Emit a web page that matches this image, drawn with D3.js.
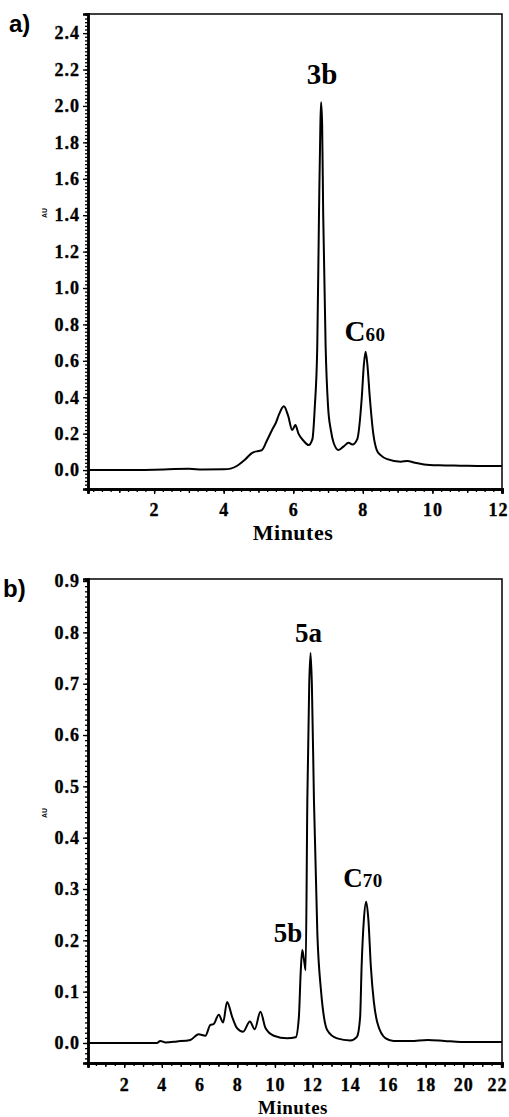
<!DOCTYPE html>
<html lang="en">
<head>
<meta charset="UTF-8">
<title>HPLC traces</title>
<script src="https://cdn.jsdelivr.net/npm/d3@7/dist/d3.min.js"></script>
<style>
    body { margin: 0; background: #fff; }
    .peak { font-family: "Liberation Serif", serif; font-weight: bold; fill: #000; }
    .panel-tag { font: bold 24px "Liberation Sans", Arial, sans-serif; fill: #000; }
    .au { font: bold 7px "Liberation Sans", Arial, sans-serif; fill: #000; }
</style>
</head>
<body>
<div id="chart"></div>
<script>
    // ---- data ----
    // panel a) : retention time (min) and absorbance (AU)
    const timeA = [0.1, 1, 2, 3, 3.4, 4.0, 4.2, 4.4, 4.6, 4.82, 5.0, 5.1, 5.25, 5.39, 5.5, 5.6,
        5.73, 5.85, 5.97, 6.06, 6.15, 6.3, 6.44, 6.55, 6.62, 6.69, 6.74, 6.78, 6.8, 6.83,
        6.86, 6.93, 7.0, 7.08, 7.16, 7.3, 7.45, 7.59, 7.7, 7.84, 7.97, 8.03, 8.08, 8.13,
        8.2, 8.3, 8.4, 8.51, 8.7, 9.09, 9.28, 9.5, 9.76, 10.2, 10.8, 11.5, 12];
    const auA = [0, 0, 0.002, 0.007, 0.003, 0.004, 0.008, 0.025, 0.055, 0.095, 0.105, 0.11, 0.165, 0.22, 0.26, 0.31,
        0.35, 0.3, 0.22, 0.247, 0.2, 0.16, 0.137, 0.17, 0.35, 0.68, 1.41, 1.9, 2.02, 1.9,
        1.41, 0.68, 0.35, 0.22, 0.15, 0.11, 0.13, 0.15, 0.14, 0.17, 0.4, 0.58, 0.65, 0.58,
        0.4, 0.2, 0.11, 0.082, 0.06, 0.046, 0.05, 0.04, 0.031, 0.026, 0.024, 0.022, 0.022];

    // panel b)
    const timeB = [0.08, 2, 3.74, 3.91, 4.2, 4.8, 5.51, 5.95, 6.31, 6.57, 6.75, 7.02, 7.25, 7.46, 7.73,
        7.99, 8.31, 8.67, 8.93, 9.23, 9.5, 9.94, 10.65, 11.1, 11.27, 11.37, 11.45, 11.55, 11.63,
        11.72, 11.82, 11.89, 11.96, 12.07, 12.25, 12.45, 12.6, 12.78, 13.3, 14.0, 14.35, 14.52,
        14.6, 14.72, 14.84, 14.96, 15.09, 15.25, 15.44, 15.88, 16.3, 17.2, 18.1, 19.0, 19.87, 22.05];
    const auB = [0, 0, 0, 0.004, 0.001, 0.003, 0.006, 0.017, 0.014, 0.035, 0.037, 0.055, 0.04, 0.08, 0.051,
        0.029, 0.022, 0.042, 0.027, 0.061, 0.029, 0.014, 0.009, 0.011, 0.05, 0.14, 0.181, 0.16, 0.142,
        0.474, 0.7, 0.76, 0.7, 0.474, 0.214, 0.1, 0.051, 0.025, 0.009, 0.005, 0.012, 0.05,
        0.149, 0.24, 0.275, 0.24, 0.149, 0.08, 0.039, 0.009, 0.004, 0.004, 0.006, 0.004, 0.002, 0.002];

    // tick labels
    const xTicksA = [2, 4, 6, 8, 10, 12];
    const yTicksA = [0.0, 0.2, 0.4, 0.6, 0.8, 1.0, 1.2, 1.4, 1.6, 1.8, 2.0, 2.2, 2.4];
    const xTicksB = [2, 4, 6, 8, 10, 12, 14, 16, 18, 20, 22];
    const yTicksB = [0.0, 0.1, 0.2, 0.3, 0.4, 0.5, 0.6, 0.7, 0.8, 0.9];

    // peak labels: [main text, subscript, time, AU]
    const peaksA = [["3b", "", 6.8, 2.02], ["C", "60", 8.08, 0.65]];
    const peaksB = [["5a", "", 11.89, 0.76], ["5b", "", 11.45, 0.181], ["C", "70", 14.84, 0.275]];

    const width = 509;
    const height = 1117;

    const svg = d3.select('#chart')
        .append('svg')
        .attr('width', width)
        .attr('height', height);

    function drawPanel(p) {
        const x = d3.scaleLinear().domain(p.xDomain).range([p.left, p.right]);
        const y = d3.scaleLinear().domain(p.yDomain).range([p.bottom, p.top]);
        const g = svg.append('g');

        // top and right frame lines
        g.append('path')
            .attr('d', `M${p.left},${p.top}H${p.right}V${p.bottom}`)
            .attr('fill', 'none')
            .attr('stroke', '#000')
            .attr('stroke-width', 1.5);

        // minor ticks first, then the labelled ones
        const yMinor = d3.axisLeft(y).tickValues(p.yMinor).tickSize(3).tickFormat('');
        const yMajor = d3.axisLeft(y).tickValues(p.yTicks).tickSize(5)
            .tickFormat(d3.format(p.yFormat)).tickPadding(3);
        const xMinor = d3.axisBottom(x).tickValues(p.xMinor).tickSize(3).tickFormat('');
        const xMid = d3.axisBottom(x).tickValues(p.xMid).tickSize(4).tickFormat('');
        const xMajor = d3.axisBottom(x).tickValues(p.xTicks).tickSize(5)
            .tickFormat(d3.format('d')).tickPadding(p.xPad);

        for (const ax of [yMinor, yMajor]) {
            g.append('g').attr('transform', `translate(${p.left},0)`).call(ax);
        }
        let xAxisG;
        for (const ax of [xMinor, xMid, xMajor]) {
            xAxisG = g.append('g').attr('transform', `translate(0,${p.bottom})`).call(ax);
        }
        g.selectAll('.domain').attr('stroke', '#000').attr('stroke-width', 2.5);
        g.selectAll('.tick line').attr('stroke', '#000').attr('stroke-width', 1.3);
        // scanned Times labels are wide and heavy
        g.selectAll('.tick text')
            .style('font-family', '"Liberation Serif", "Times New Roman", serif')
            .style('font-size', '18px')
            .style('font-weight', 'bold')
            .style('letter-spacing', '1px')
            .style('fill', '#000')
            .style('stroke', '#000')
            .style('stroke-width', '0.35px');
        // the last x label sits at the page edge: nudge it inside
        xAxisG.selectAll('.tick text')
            .filter(d => d === p.xTicks[p.xTicks.length - 1])
            .attr('dx', -4);

        // trace
        const line = d3.line()
            .x((d, i) => x(p.time[i]))
            .y(d => y(d))
            .curve(d3.curveMonotoneX);
        g.append('path')
            .datum(p.au)
            .attr('d', line)
            .attr('fill', 'none')
            .attr('stroke', '#000')
            .attr('stroke-width', 2)
            .attr('stroke-linejoin', 'round');

        // axis titles
        g.append('text')
            .attr('class', 'peak')
            .attr('x', (p.left + p.right) / 2 - 2)
            .attr('y', p.minutesY)
            .attr('text-anchor', 'middle')
            .style('font-size', p.minutesSize + 'px')
            .style('letter-spacing', '0.5px')
            .text('Minutes');
        g.append('text')
            .attr('class', 'au')
            .attr('transform', `translate(47,${p.auY}) rotate(-90)`)
            .attr('text-anchor', 'middle')
            .text('AU');
        g.append('text')
            .attr('class', 'panel-tag')
            .attr('x', p.tagX)
            .attr('y', p.tagY)
            .text(p.tag);

        // peak names
        for (const [name, sub, t, v] of p.peaks) {
            const off = p.peakOffsets[name + sub];
            const txt = g.append('text')
                .attr('class', 'peak')
                .attr('x', x(t) + off[0])
                .attr('y', y(v) + off[1])
                .attr('text-anchor', off[2])
                .style('font-size', p.peakSize + 'px')
                .text(name);
            if (sub) {
                txt.append('tspan')
                    .style('font-size', '19px')
                    .style('letter-spacing', '0.5px')
                    .text(sub);
            }
        }
    }

    drawPanel({
        tag: 'a)', tagX: 9, tagY: 32,
        left: 88, right: 502, top: 14, bottom: 489,
        xDomain: [0.1, 12], yDomain: [-0.104, 2.505],
        time: timeA, au: auA,
        xTicks: xTicksA, yTicks: yTicksA, xPad: 9,
        xMinor: d3.range(0.25, 12.01, 0.25), xMid: d3.range(1, 12.01, 1),
        yMinor: d3.range(-0.1, 2.5, 0.02),
        yFormat: '.1f',
        minutesY: 540, minutesSize: 22, auY: 213,
        peaks: peaksA, peakSize: 29,
        peakOffsets: { '3b': [1, -18, 'middle'], 'C60': [-21, -11, 'start'] }
    });

    drawPanel({
        tag: 'b)', tagX: 3, tagY: 597,
        left: 88, right: 502, top: 579, bottom: 1063,
        xDomain: [0.08, 22.05], yDomain: [-0.039, 0.904],
        time: timeB, au: auB,
        xTicks: xTicksB, yTicks: yTicksB, xPad: 10,
        xMinor: d3.range(0.5, 22.01, 0.5), xMid: d3.range(1, 22.01, 1),
        yMinor: d3.range(-0.03, 0.9, 0.01),
        yFormat: '.1f',
        minutesY: 1114, minutesSize: 19, auY: 813,
        peaks: peaksB, peakSize: 27,
        peakOffsets: { '5a': [-2, -11, 'middle'], '5b': [0, -8, 'end'], 'C70': [-23, -15, 'start'] }
    });
</script>
</body>
</html>
